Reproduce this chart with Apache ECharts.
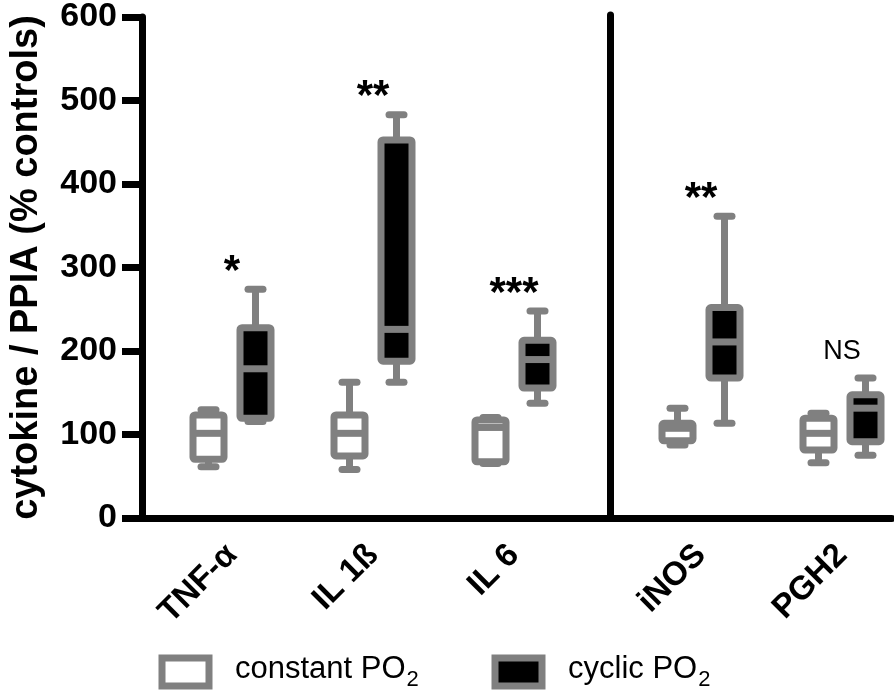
<!DOCTYPE html>
<html><head><meta charset="utf-8">
<script src="https://cdn.jsdelivr.net/npm/echarts@6/dist/echarts.min.js"></script>
<style>html,body{margin:0;padding:0;background:#fff}#c{width:894px;height:692px}</style>
</head><body><div id="c"></div>
<script>
// ---- data ----
const categories = ['TNF-α', 'IL 1ß', 'IL 6', 'iNOS', 'PGH2'];
const leftPanelCount = 3;            // first three in left panel, rest in right panel
const yTicks = [0, 100, 200, 300, 400, 500, 600];
const seriesNames = ['constant PO2', 'cyclic PO2'];
const yAxisTitle = 'cytokine / PPIA (% controls)';
// each entry: [min, Q1, median, Q3, max]
const constantPO2 = [
  [61, 70, 101, 123, 129],
  [58, 74, 101, 123, 162],
  [65, 67, 108, 117, 120],
  [87, 92, 107, 113, 131],
  [66, 81, 101, 119, 125]
];
const cyclicPO2 = [
  [115, 119, 178, 227, 273],
  [162, 187, 225, 451, 481],
  [137, 155, 189, 212, 247],
  [113, 167, 210, 251, 360],
  [75, 91, 131, 147, 167]
];
const significance = ['*', '**', '***', '**', 'NS'];

// ---- style ----
const GRAY = '#808080';
const FONT = '"Liberation Sans", Arial, sans-serif';

function boxSeries(name, panel, values, fill, offset, sig) {
  return {
    type: 'custom',
    name: name,
    xAxisIndex: panel + 1,
    yAxisIndex: panel + 1,
    itemStyle: { color: fill, borderColor: GRAY, borderWidth: 7 },
    encode: { x: 0, y: [1, 2, 3, 4, 5] },
    data: values.map((v, i) => [i].concat(v)),
    renderItem: function (params, api) {
      const i = api.value(0);
      const c = api.coord([i, 0]);
      const x = c[0] + offset;
      const y = k => api.coord([i, api.value(k)])[1];
      const yMin = y(1), yQ1 = y(2), yMed = y(3), yQ3 = y(4), yMax = y(5);
      const lw = 7, hw = 15.5, cw = 7.5;
      const line = (x1, y1, x2, y2, cap) => ({
        type: 'line', shape: { x1, y1, x2, y2 },
        style: { stroke: GRAY, lineWidth: lw, lineCap: cap || 'round' }
      });
      const children = [
        line(x, yMax, x, yQ3, 'butt'),
        line(x, yQ1, x, yMin, 'butt'),
        line(x - cw, yMax, x + cw, yMax),
        line(x - cw, yMin, x + cw, yMin),
        { type: 'rect', shape: { x: x - hw, y: yQ3, width: 2 * hw, height: yQ1 - yQ3, r: 2 },
          style: { fill: fill, stroke: GRAY, lineWidth: lw, lineJoin: 'round' } },
        line(x - hw, yMed, x + hw, yMed, 'butt')
      ];
      if (sig) {
        const s = sig[params.dataIndex];
        const star = /^\*+$/.test(s);
        children.push({
          type: 'text', x: c[0], y: yMax - (star ? 17 : 26),
          style: {
            text: s, fill: '#000',
            font: star ? 'bold 42px ' + FONT : '27px ' + FONT,
            align: 'center', verticalAlign: 'middle'
          }
        });
      }
      return { type: 'group', children: children };
    }
  };
}

const leftCats = categories.slice(0, leftPanelCount);
const rightCats = categories.slice(leftPanelCount);

const legendRich = {
  g: { width: 21 },
  t: { fontSize: 31, fontFamily: FONT, color: '#000', verticalAlign: 'top' },
  s: { fontSize: 22, fontFamily: FONT, color: '#000', verticalAlign: 'top', padding: [15, 0, 0, 1] }
};
const legendFormatter = n => '{g| }{t|' + n.slice(0, -1) + '}{s|' + n.slice(-1) + '}';
function legendItem(name, fill, left) {
  return {
    data: [{ name: name, icon: 'rect', itemStyle: { color: fill, borderColor: GRAY, borderWidth: 7 } }],
    left: left, top: 653.5, padding: 0, itemWidth: 47, itemHeight: 28,
    selectedMode: false, formatter: legendFormatter,
    textStyle: { rich: legendRich }
  };
}

const catLabel = {
  interval: 0, rotate: 45, margin: 32, padding: [24, 0, 0, 0],
  color: '#000', fontFamily: FONT, fontWeight: 'bold', fontSize: 33
};

const option = {
  backgroundColor: '#fff',
  animation: false,
  grid: [
    { left: 139, right: 2, top: 15, bottom: 174 },
    { left: 232, width: 282, top: 15, bottom: 174 },
    { left: 701, width: 141, top: 15, bottom: 174 }
  ],
  xAxis: [
    { gridIndex: 0, type: 'value', min: 0, max: 1,
      axisLine: { show: true, lineStyle: { color: '#000', width: 7 } },
      axisTick: { show: false }, axisLabel: { show: false }, splitLine: { show: false } },
    { gridIndex: 1, type: 'category', data: leftCats, boundaryGap: false,
      axisLine: { show: false }, axisTick: { show: false }, splitLine: { show: false },
      axisLabel: catLabel },
    { gridIndex: 2, type: 'category', data: rightCats, boundaryGap: false,
      axisLine: { show: false }, axisTick: { show: false }, splitLine: { show: false },
      axisLabel: catLabel }
  ],
  yAxis: [
    { gridIndex: 0, type: 'value', min: yTicks[0], max: yTicks[yTicks.length - 1],
      interval: yTicks[1] - yTicks[0],
      axisLine: { show: true, lineStyle: { color: '#000', width: 7 } },
      axisTick: { show: true, length: 20, lineStyle: { color: '#000', width: 7 } },
      axisLabel: { margin: 25, color: '#000', fontFamily: FONT, fontWeight: 'bold', fontSize: 34 },
      splitLine: { show: false },
      name: yAxisTitle, nameLocation: 'middle', nameRotate: 90, nameGap: 96,
      nameTextStyle: { color: '#000', fontFamily: FONT, fontWeight: 'bold', fontSize: 38 } },
    { gridIndex: 1, type: 'value', min: yTicks[0], max: yTicks[yTicks.length - 1],
      interval: yTicks[1] - yTicks[0], show: false },
    { gridIndex: 2, type: 'value', min: yTicks[0], max: yTicks[yTicks.length - 1],
      interval: yTicks[1] - yTicks[0], position: 'left', offset: 91,
      axisLine: { show: true, lineStyle: { color: '#000', width: 7 } },
      axisTick: { show: false }, axisLabel: { show: false }, splitLine: { show: false } }
  ],
  legend: [
    legendItem(seriesNames[0], '#fff', 158.5),
    legendItem(seriesNames[1], '#000', 491.5)
  ],
  series: [
    boxSeries(seriesNames[0], 0, constantPO2.slice(0, leftPanelCount), '#fff', -23.5, null),
    boxSeries(seriesNames[1], 0, cyclicPO2.slice(0, leftPanelCount), '#000', 23.5, significance.slice(0, leftPanelCount)),
    boxSeries(seriesNames[0], 1, constantPO2.slice(leftPanelCount), '#fff', -23.5, null),
    boxSeries(seriesNames[1], 1, cyclicPO2.slice(leftPanelCount), '#000', 23.5, significance.slice(leftPanelCount))
  ]
};

const chart = echarts.init(document.getElementById('c'), null, { renderer: 'canvas' });
chart.setOption(option);
</script>
</body></html>
